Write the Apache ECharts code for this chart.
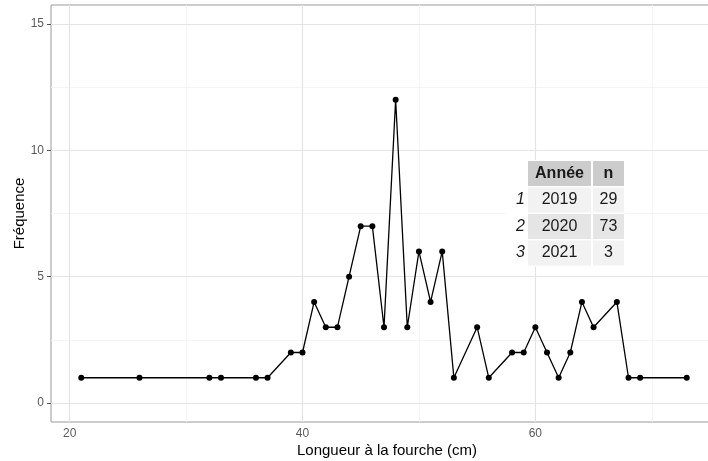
<!DOCTYPE html>
<html>
<head>
<meta charset="utf-8">
<script src="https://cdn.jsdelivr.net/npm/echarts@6/dist/echarts.min.js"></script>
<style>
html,body{margin:0;padding:0;background:#fff;}
#chart{width:708px;height:461px;}
</style>
</head>
<body>
<div id="chart"></div>
<script>
// Data
var lengths = [21,26,32,33,36,37,39,40,41,42,43,44,45,46,47,48,49,50,51,52,53,55,56,58,59,60,61,62,63,64,65,67,68,69,73];
var freqs   = [1, 1, 1, 1, 1, 1, 2, 2, 4, 3, 3, 5, 7, 7, 3, 12,3, 6, 4, 6, 1, 3, 1, 2, 2, 3, 2, 1, 2, 4, 3, 4, 1, 1, 1];

// Tick values
var xMajor = [20, 40, 60];
var xMinor = [30, 50, 70];
var yMajor = [0, 5, 10, 15];
var yMinor = [2.5, 7.5, 12.5];

// Table content
var tableHeader = ['Année', 'n'];
var rowLabels = ['1', '2', '3'];
var years = ['2019', '2020', '2021'];
var counts = [29, 73, 3];

var FONT = 'Liberation Sans, Arial, Helvetica, sans-serif';

var points = lengths.map(function (x, i) { return [x, freqs[i]]; });

var majorStyle = {color: '#e4e4e4', width: 1.2, type: 'solid'};
var minorStyle = {color: '#f1f1f1', width: 0.8, type: 'solid'};
var gridLines = [];
xMinor.forEach(function (v) { gridLines.push({xAxis: v, lineStyle: minorStyle}); });
yMinor.forEach(function (v) { gridLines.push({yAxis: v, lineStyle: minorStyle}); });
xMajor.forEach(function (v) { gridLines.push({xAxis: v, lineStyle: majorStyle}); });
yMajor.forEach(function (v) { gridLines.push({yAxis: v, lineStyle: majorStyle}); });

// Table graphic
var tb = {left: 505, top: 161, rowHeadW: 23, col1: 63, col2: 31, gap: 2, headH: 25, rowH: 25, pitch: 26.5};
var graphics = [];
var colX = [tb.left + tb.rowHeadW, tb.left + tb.rowHeadW + tb.col1 + tb.gap];
var colW = [tb.col1, tb.col2];
graphics.push({type: 'rect', z: 50, silent: true,
  shape: {x: tb.left, y: tb.top - 1, width: tb.rowHeadW + tb.col1 + tb.gap + tb.col2 + 1, height: tb.headH + 3 * tb.pitch + 2},
  style: {fill: '#ffffff'}});
tableHeader.forEach(function (h, c) {
  graphics.push({type: 'rect', z: 51, silent: true,
    shape: {x: colX[c], y: tb.top, width: colW[c], height: tb.headH}, style: {fill: '#cccccc'}});
  graphics.push({type: 'text', z: 52, silent: true,
    style: {text: h, x: colX[c] + colW[c] / 2, y: tb.top + tb.headH / 2, align: 'center', verticalAlign: 'middle',
      font: 'bold 16px ' + FONT, fill: '#1a1a1a'}});
});
years.forEach(function (yr, r) {
  var y = tb.top + tb.headH + 1.5 + r * tb.pitch;
  var fill = (r % 2 === 0) ? '#f2f2f2' : '#e5e5e5';
  var vals = [yr, String(counts[r])];
  vals.forEach(function (v, c) {
    graphics.push({type: 'rect', z: 51, silent: true,
      shape: {x: colX[c], y: y, width: colW[c], height: tb.rowH}, style: {fill: fill}});
    graphics.push({type: 'text', z: 52, silent: true,
      style: {text: v, x: colX[c] + colW[c] / 2, y: y + tb.rowH / 2, align: 'center', verticalAlign: 'middle',
        font: '16px ' + FONT, fill: '#1a1a1a'}});
  });
  graphics.push({type: 'text', z: 52, silent: true,
    style: {text: rowLabels[r], x: colX[0] - 3, y: y + tb.rowH / 2, align: 'right', verticalAlign: 'middle',
      font: 'italic 16px ' + FONT, fill: '#1a1a1a'}});
});

var chart = echarts.init(document.getElementById('chart'), null, {renderer: 'canvas'});
chart.setOption({
  animation: false,
  backgroundColor: '#ffffff',
  textStyle: {fontFamily: FONT},
  grid: {left: 51, top: 5, width: 666, bottom: 39, containLabel: false, outerBoundsMode: 'none',
    show: true, borderColor: '#9a9a9a', borderWidth: 1, backgroundColor: 'transparent'},
  xAxis: {
    type: 'value', min: 18.4, max: 75.6,
    name: 'Longueur à la fourche (cm)', nameLocation: 'middle', nameGap: 21, nameMoveOverlap: false,
    nameTextStyle: {fontSize: 15, color: '#000', fontFamily: FONT, padding: [0, 0, 0, 6]},
    axisLine: {show: false},
    splitLine: {show: false},
    axisTick: {show: true, customValues: xMajor, length: 4, lineStyle: {color: '#555', width: 1}},
    axisLabel: {show: true, customValues: xMajor, fontSize: 12, color: '#5a5a5a', margin: 6, fontFamily: FONT}
  },
  yAxis: {
    type: 'value', min: -0.75, max: 15.75,
    name: 'Fréquence', nameLocation: 'middle', nameGap: 24, nameRotate: 90, nameMoveOverlap: false,
    nameTextStyle: {fontSize: 15, color: '#000', fontFamily: FONT},
    axisLine: {show: false},
    splitLine: {show: false},
    axisTick: {show: true, customValues: yMajor, length: 4, lineStyle: {color: '#555', width: 1}},
    axisLabel: {show: true, customValues: yMajor, fontSize: 12, color: '#5a5a5a', margin: 7, fontFamily: FONT}
  },
  graphic: graphics,
  series: [
    {
      type: 'line', data: [], z: 1, silent: true,
      markLine: {silent: true, symbol: ['none', 'none'], label: {show: false}, animation: false, data: gridLines}
    },
    {
      type: 'line', data: points, z: 5,
      lineStyle: {color: '#000', width: 1.3},
      itemStyle: {color: '#000'},
      symbol: 'circle', symbolSize: 6, showSymbol: true
    }
  ]
});
</script>
</body>
</html>
